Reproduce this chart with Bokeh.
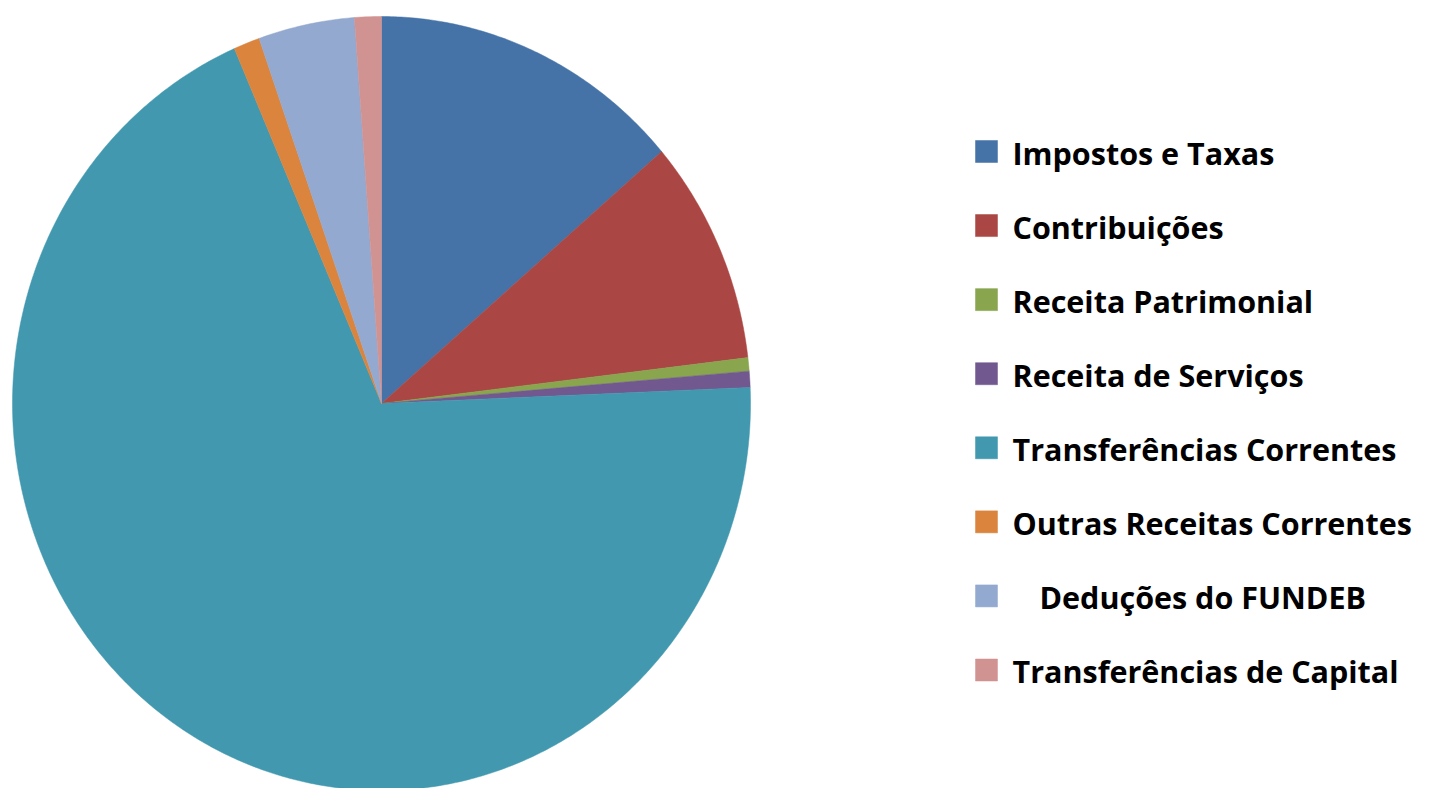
import numpy as np
from bokeh.plotting import figure
from bokeh.models import Range1d
from bokeh.core.properties import value
from bokeh.embed import file_html
from bokeh.resources import INLINE

# Data (percent of total revenue)
categories = ["Impostos e Taxas", "Contribuições", "Receita Patrimonial",
              "Receita de Serviços", "Transferências Correntes",
              "Outras Receitas Correntes", "Deduções do FUNDEB",
              "Transferências de Capital"]
shares = [13.72, 9.39, 0.56, 0.67, 69.14, 1.15, 4.21, 1.17]
colors = ["#4572A7", "#AA4643", "#89A54E", "#71588F",
          "#4198AF", "#DB843D", "#93A9CF", "#D19392"]

W, H = 1414, 788
p = figure(width=W, height=H, output_backend="svg", toolbar_location=None,
           x_range=Range1d(0, W), y_range=Range1d(H, 0), min_border=0)
p.axis.visible = False
p.grid.visible = False
p.outline_line_color = None
p.background_fill_color = "white"

# pie (elliptical, like the stretched original)
cx, cy, rx, ry = 381, 403, 369, 387
vals = np.array(shares, dtype=float)
cum = np.concatenate([[0], np.cumsum(vals)]) / vals.sum() * 2 * np.pi
xs, ys = [], []
for a0, a1 in zip(cum[:-1], cum[1:]):
    n = max(4, int((a1 - a0) / (2 * np.pi) * 720))
    t = np.linspace(a0, a1, n)
    xs.append([cx] + list(cx + rx * np.sin(t)))
    ys.append([cy] + list(cy - ry * np.cos(t)))
p.patches(xs=xs, ys=ys, fill_color=colors, line_color=colors, line_width=0.5)

# legend
leg_x0, leg_y0, leg_dy, sq = 986, 151, 74.07, 22
indent = [0, 0, 0, 0, 0, 0, 27, 0]
ly = [leg_y0 + i * leg_dy for i in range(len(categories))]
p.rect(x=[leg_x0] * len(categories), y=ly, width=sq, height=sq,
       fill_color=colors, line_color=colors, line_width=0.5)
tx = [1012 + d for d in indent]
p.text(x=tx, y=[v + 1 for v in ly], text=categories, text_font=value("Open Sans"),
       text_font_size="30.5px", text_font_style="bold", text_baseline="middle",
       text_align="left", text_color="black")

open("out.html", "w").write(file_html(p, INLINE))
